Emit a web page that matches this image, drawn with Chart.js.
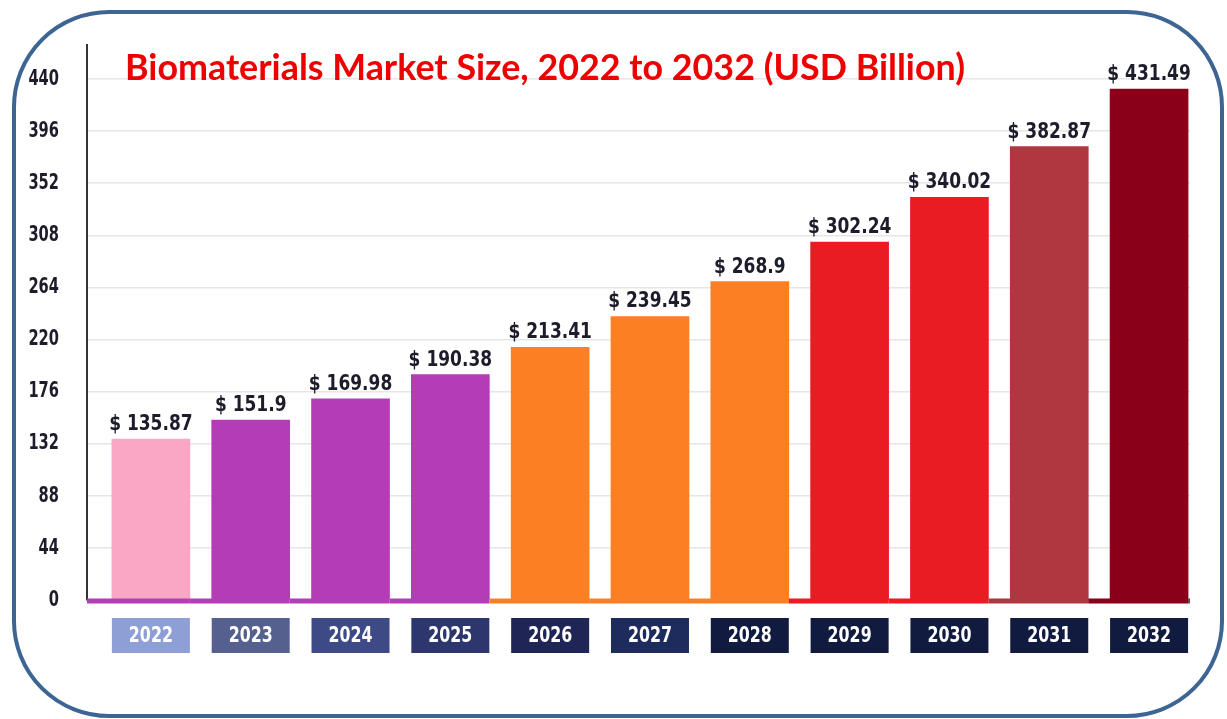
<!DOCTYPE html>
<html lang="en">
<head>
  <meta charset="UTF-8">
  <title>Biomaterials Market Size</title>
  <script src="https://cdn.jsdelivr.net/npm/chart.js@4.4.1/dist/chart.umd.min.js"></script>
  <style>
    body { margin: 0; background: #fff; }
    canvas { display: block; }
  </style>
</head>
<body>

  <canvas id="market" width="1227" height="719"></canvas>

  <script>

  const years = ['2022', '2023', '2024', '2025', '2026', '2027', '2028', '2029', '2030', '2031', '2032'];
  const marketSize = [135.87, 151.9, 169.98, 190.38, 213.41, 239.45, 268.9, 302.24, 340.02, 382.87, 431.49];
  const yTicks = [0, 44, 88, 132, 176, 220, 264, 308, 352, 396, 440];

  const barColors = ['#f9a7c5', '#b43cb7', '#b43cb7', '#b43cb7', '#fc7f24', '#fc7f24', '#fc7f24',
                     '#e91c24', '#e91c24', '#b0373f', '#8a0019'];
  const yearBoxColors = ['#8e9fd5', '#56608f', '#3e4a85', '#2d376e', '#1f2656', '#1d2c5c',
                         '#111b3f', '#111b3f', '#111b3f', '#111b3f', '#111b3f'];

  const title = 'Biomaterials Market Size, 2022 to 2032 (USD Billion)';
  const narrow = "'DejaVu Sans Condensed', sans-serif";

  // condensed text: squeeze horizontally around the anchor point
  function squeezedText(ctx, text, x, y, squeeze, align) {
    ctx.save();
    ctx.translate(x, y);
    ctx.scale(squeeze, 1);
    ctx.textAlign = align;
    ctx.fillText(text, 0, 0);
    ctx.restore();
  }

  // rounded frame, baseline, axis numbers, value labels, year boxes and the heading
  const decorations = {
    id: 'decorations',
    beforeDraw(chart) {
      const ctx = chart.ctx;
      ctx.save();
      ctx.fillStyle = '#ffffff';
      ctx.fillRect(0, 0, chart.width, chart.height);
      ctx.beginPath();
      ctx.roundRect(14, 12, 1208, 704, 95);
      ctx.lineWidth = 4;
      ctx.strokeStyle = '#3d6593';
      ctx.stroke();
      ctx.restore();
    },
    afterDatasetsDraw(chart) {
      const ctx = chart.ctx;
      const area = chart.chartArea;
      const yScale = chart.scales.y;
      const bars = chart.getDatasetMeta(0).data;
      const zeroY = yScale.getPixelForValue(0);
      ctx.save();

      // y axis numbers
      ctx.fillStyle = '#1c1c2a';
      ctx.font = 'bold 22px ' + narrow;
      ctx.textBaseline = 'middle';
      yTicks.forEach(v => {
        squeezedText(ctx, String(v), area.left - 28, yScale.getPixelForValue(v), 0.74, 'right');
      });

      // coloured baseline under the bars
      ctx.lineWidth = 5;
      let from = area.left;
      bars.forEach((bar, i) => {
        const right = bar.x + bar.width / 2;
        ctx.strokeStyle = i === 0 ? barColors[1] : barColors[i];
        ctx.beginPath();
        ctx.moveTo(from, zeroY + 1);
        ctx.lineTo(right, zeroY + 1);
        ctx.stroke();
        from = right;
      });
      ctx.strokeStyle = '#4d4d58';
      ctx.beginPath();
      ctx.moveTo(from, zeroY + 1);
      ctx.lineTo(area.right, zeroY + 1);
      ctx.stroke();

      bars.forEach((bar, i) => {
        // value above each bar
        ctx.fillStyle = '#1c1c2a';
        ctx.font = 'bold 22px ' + narrow;
        ctx.textBaseline = 'alphabetic';
        squeezedText(ctx, '$ ' + marketSize[i], bar.x, bar.y - 9, 0.86, 'center');

        // year box below the axis
        const left = bar.x - bar.width / 2;
        ctx.fillStyle = yearBoxColors[i];
        ctx.fillRect(left, zeroY + 18, bar.width, 35);
        ctx.fillStyle = '#ffffff';
        ctx.font = 'bold 22px ' + narrow;
        ctx.textBaseline = 'middle';
        squeezedText(ctx, years[i], bar.x, zeroY + 36, 0.8, 'center');
      });
      ctx.restore();
    },
    afterDraw(chart) {
      const ctx = chart.ctx;
      ctx.save();
      ctx.fillStyle = '#ee0000';
      ctx.font = 'bold 36px Lato, sans-serif';
      ctx.textAlign = 'left';
      ctx.textBaseline = 'alphabetic';
      ctx.fillText(title, 125, 80, 840);
      ctx.restore();
    }
  };

  const ctx = document.getElementById('market').getContext('2d');
  const marketChart = new Chart(ctx, {
    type: 'bar',
    data: {
      datasets: [{
        label: 'Market size',
        data: marketSize.map((v, i) => ({ x: i, y: v })),
        backgroundColor: barColors,
        barThickness: 78
      }]
    },
    options: {
      responsive: false,
      animation: false,
      layout: {
        padding: { top: 45, right: 37, bottom: 119, left: 0 }
      },
      plugins: {
        legend: { display: false },
        tooltip: { enabled: false }
      },
      scales: {
        x: {
          type: 'linear',
          min: -0.64,
          max: 10.41,
          offset: false,
          display: false
        },
        y: {
          min: 0,
          max: 468.7,
          afterBuildTicks: scale => {
            scale.ticks = yTicks.map(v => ({ value: v }));
          },
          afterFit: scale => {
            scale.width = 87;
          },
          ticks: { display: false },
          grid: {
            color: '#e6e6e6',
            lineWidth: 1.5,
            drawTicks: false
          },
          border: {
            color: '#333333',
            width: 2
          }
        }
      }
    },
    plugins: [decorations]
  });

  </script>
</body>
</html>
